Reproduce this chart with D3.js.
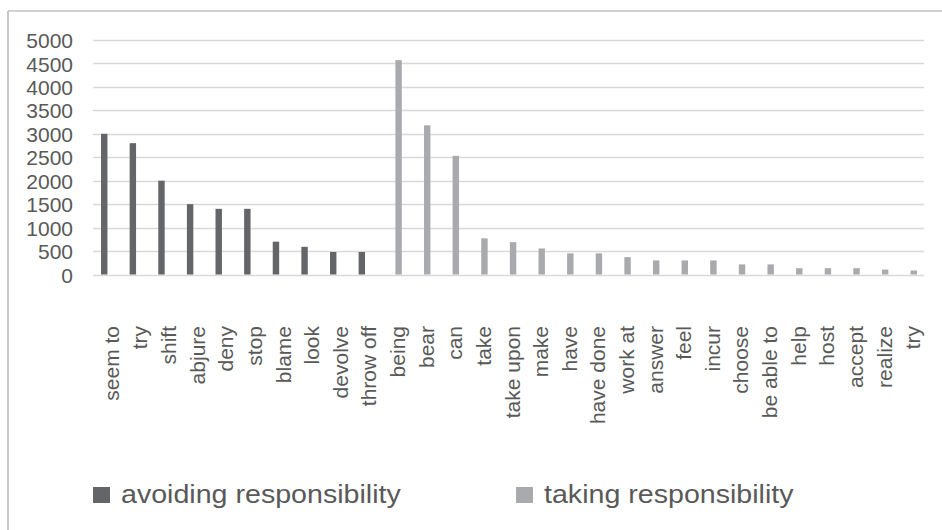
<!DOCTYPE html>
<html>
<head>
<meta charset="utf-8">
<script src="https://cdn.jsdelivr.net/npm/d3@7"></script>
<style>
  html, body { margin: 0; padding: 0; background: #fff; }
  svg { display: block; }
  text { font-family: "Liberation Sans", Arial, sans-serif; fill: #595959; }
</style>
</head>
<body>
<svg id="chart" width="942" height="530"></svg>
<script>
// ---- data ----
const categories = ["seem to","try","shift","abjure","deny","stop","blame","look","devolve","throw off",
  "being","bear","can","take","take upon","make","have","have done","work at","answer","feel","incur",
  "choose","be able to","help","host","accept","realize","try"];
const avoidingValues = [3000,2800,2000,1500,1400,1400,700,590,480,480,
  null,null,null,null,null,null,null,null,null,null,null,null,null,null,null,null,null,null,null];
const takingValues = [null,null,null,null,null,null,null,null,null,null,
  4570,3180,2530,770,690,555,450,450,370,300,300,300,215,215,135,135,135,105,85];
const seriesNames = ["avoiding responsibility","taking responsibility"];
const seriesColors = ["#646569","#a9aaad"];
const yTicks = [0,500,1000,1500,2000,2500,3000,3500,4000,4500,5000];

// ---- layout ----
const svg = d3.select("#chart");
const plot = {left: 94, right: 924, top: 40, bottom: 274.5};

// frame
svg.append("line").attr("x1", 8).attr("x2", 942).attr("y1", 11).attr("y2", 11)
  .attr("stroke", "#a6a6a6").attr("stroke-width", 1.2);
svg.append("line").attr("x1", 8).attr("x2", 8).attr("y1", 11).attr("y2", 530)
  .attr("stroke", "#b5b5b5").attr("stroke-width", 1.5);

const ids = categories.map((c, i) => i);
const gapP = 2.19 / 4.46;
const x0 = d3.scaleBand().domain(ids).range([plot.left, plot.right])
  .paddingInner(gapP).paddingOuter(gapP / 2);
const x1 = d3.scaleBand().domain([0, 1]).range([0, x0.bandwidth()])
  .paddingInner(0.27 / 1.27).paddingOuter(0);
const y = d3.scaleLinear().domain([0, 5000]).range([plot.bottom, plot.top]);

// gridlines
svg.append("g").selectAll("line").data(yTicks).join("line")
  .attr("x1", plot.left - 1).attr("x2", plot.right)
  .attr("y1", d => Math.round(y(d)) + 0.5).attr("y2", d => Math.round(y(d)) + 0.5)
  .attr("stroke", "#d9d9d9").attr("stroke-width", 1.3);

// y axis labels
const yAxis = d3.axisLeft(y).tickValues(yTicks).tickSize(0).tickPadding(0).tickFormat(d3.format("d"));
const yg = svg.append("g").attr("transform", `translate(73,0)`).call(yAxis);
yg.select(".domain").remove();
yg.selectAll("text").attr("font-size", 21).attr("font-family", "Liberation Sans, Arial, sans-serif")
  .attr("fill", "#595959").attr("dy", "0.36em");

// bars
const series = [avoidingValues, takingValues];
series.forEach((vals, s) => {
  svg.append("g").selectAll("rect")
    .data(vals.map((v, i) => ({i, v})).filter(d => d.v != null))
    .join("rect")
    .attr("x", d => x0(d.i) + x1(s))
    .attr("width", x1.bandwidth())
    .attr("y", d => y(d.v))
    .attr("height", d => y(0) - y(d.v))
    .attr("fill", seriesColors[s]);
});

// x labels (rotated)
svg.append("g").selectAll("text").data(ids).join("text")
  .attr("transform", i => `translate(${x0(i) + x0.bandwidth() / 2 + 10.5},326) rotate(-90)`)
  .attr("text-anchor", "end")
  .attr("font-size", 21)
  .text(i => categories[i]);

// legend
const legendX = [93, 516];
seriesNames.forEach((name, s) => {
  const g = svg.append("g").attr("transform", `translate(${legendX[s]},487)`);
  g.append("rect").attr("width", 17).attr("height", 16).attr("fill", seriesColors[s]);
  g.append("text").attr("transform", "translate(28,16) scale(1.1,1)")
    .attr("font-size", 26).text(name);
});
</script>
</body>
</html>
